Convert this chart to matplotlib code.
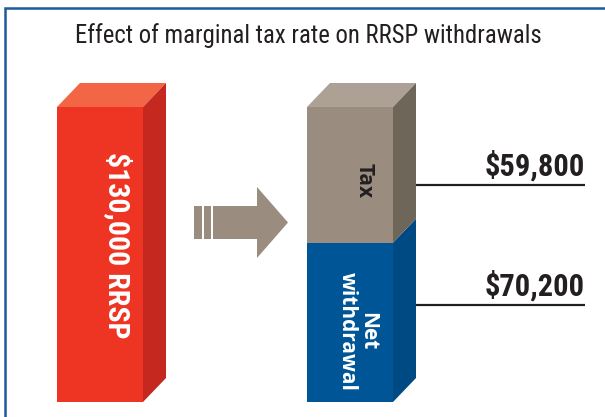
import matplotlib
matplotlib.use("Agg")
import matplotlib.pyplot as plt
from matplotlib.patches import Polygon, Rectangle

# data
title = "Effect of marginal tax rate on RRSP withdrawals"
rrsp_total = 130000
segments = ["Net\nwithdrawal", "Tax"]
segment_values = [70200, 59800]
bar_label = "$130,000 RRSP"

RED = ("#EE3524", "#F26645", "#C4281F")      # front, top, side
GRAY = ("#9A8C7F", "#ADA094", "#6F665A")
BLUE = ("#005596", "#004A84")
INK = "#231F20"
NARROW = ["Roboto Condensed", "DejaVu Sans"]

fig = plt.figure(figsize=(6.05, 4.17), dpi=100)

# background / decoration layer in pixel coords
bg = fig.add_axes([0, 0, 1, 1])
bg.set_xlim(0, 605)
bg.set_ylim(417, 0)
bg.axis("off")
bg.plot([5, 5, 605], [417, 8, 8], color="#1C5B9C", lw=1.8, solid_joinstyle="miter")
bg.text(308, 36, title, ha="center", va="center", fontsize=17.8,
        family=NARROW, color=INK)

# arrow
arrow_c = "#9A8C7F"
bg.add_patch(Rectangle((194, 206), 8, 33, color=arrow_c, lw=0))
bg.add_patch(Rectangle((204, 206), 7, 33, color=arrow_c, lw=0))
bg.add_patch(Polygon([(213, 206), (257, 206), (257, 187), (288, 222.5),
                      (257, 258), (257, 239), (213, 239)],
                     closed=True, color=arrow_c, lw=0))

# bars
ax = fig.add_axes([57 / 605, 15 / 417, 336 / 605, 295 / 417])
ax.set_xlim(0, 1.344)
ax.set_ylim(0, rrsp_total)
ax.axis("off")
width = 0.344
depth = (23, 24)  # pixels


def shift(x, y):
    d = ax.transData.transform((x, y)) + depth
    return tuple(ax.transData.inverted().transform(d))


def side(x, y0, y1, color):
    pts = [(x, y0), (x, y1), shift(x, y1), shift(x, y0)]
    ax.add_patch(Polygon(pts, closed=True, color=color, lw=0, clip_on=False))


def top(x0, x1, y, color):
    pts = [(x0, y), (x1, y), shift(x1, y), shift(x0, y)]
    ax.add_patch(Polygon(pts, closed=True, color=color, lw=0, clip_on=False))


# left bar: whole RRSP
ax.bar(0, rrsp_total, width, align="edge", color=RED[0], lw=0)
top(0, width, rrsp_total, RED[1])
side(width, 0, rrsp_total, RED[2])
ax.text(0.70 * width, rrsp_total * 0.53, bar_label, rotation=-90,
        ha="center", va="center", color="white", fontsize=21.5,
        family=NARROW, fontweight="bold")

# right bar: net withdrawal + tax
net, tax = segment_values
ax.bar(1, net, width, align="edge", color=BLUE[0], lw=0)
ax.bar(1, tax, width, bottom=net, align="edge", color=GRAY[0], lw=0)
top(1, 1 + width, rrsp_total, GRAY[1])
side(1 + width, 0, net, BLUE[1])
side(1 + width, net, rrsp_total, GRAY[2])

ax.text(1 + 0.67 * width, net + 0.46 * tax, segments[1], rotation=-90,
        ha="center", va="center", color=INK, fontsize=15,
        family="Open Sans", fontweight="bold")
ax.text(1 + 0.59 * width, 0.446 * net, segments[0], rotation=-90,
        ha="center", va="center", color="white", fontsize=15,
        family="Open Sans", fontweight="bold", linespacing=0.95,
        multialignment="center")

# value callouts
for val, y in zip([tax, net], [185, 305]):
    bg.plot([416, 585], [y, y], color=INK, lw=1.6, solid_capstyle="butt")
    bg.text(585, y - 9, f"${val:,}", ha="right", va="baseline",
            fontsize=22, family=NARROW, fontweight="bold", color=INK)

fig.savefig("out.png", dpi=100)
